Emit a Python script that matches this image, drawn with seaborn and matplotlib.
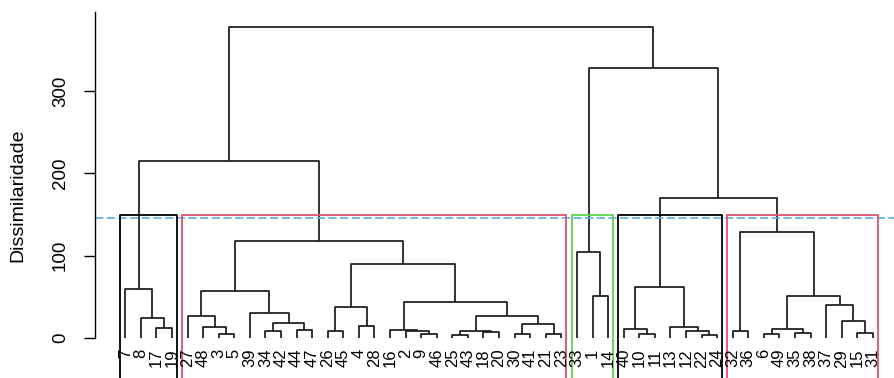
import numpy as np
import matplotlib
matplotlib.use("Agg")
import matplotlib.pyplot as plt
import seaborn as sns

sns.set_style("white")
plt.rcParams['font.family'] = ['Liberation Sans', 'DejaVu Sans']
plt.rcParams['text.color'] = 'black'
plt.rcParams['ytick.color'] = 'black'

# leaf order as drawn (left to right)
leaf_order = [7, 8, 17, 19, 27, 48, 3, 5, 39, 34, 42, 44, 47, 26, 45, 4, 28, 16, 2, 9,
              46, 25, 43, 18, 20, 30, 41, 21, 23, 33, 1, 14, 40, 10, 11, 13, 12, 22, 24,
              32, 36, 6, 49, 35, 38, 37, 29, 15, 31]

# merge table (R hclust style): negative = leaf label, positive = earlier merge row
merge_left = [-17, -8, -7, -3, -48, -27, -34, -44, 7, -39, 6, -26, -4, 12, -9, -2, -16,
              -25, -18, 18, -30, -21, 21, 20, 17, 14, 11, 3, -1, -33, -10, -40, -22, -12,
              -13, 32, -32, -6, -35, 38, -15, -29, -37, 40, 37, 36, 30, 28]
merge_right = [-19, 1, 2, -5, 4, 5, -42, -47, 8, 9, 10, -45, -28, 13, -46, 15, 16,
               -43, -20, 19, -41, -23, 22, 23, 24, 25, 26, 27, -14, 29, -11, 31, -24, 33,
               34, 35, -36, -49, -38, 39, -31, 41, 42, 43, 44, 45, 46, 47]
merge_height = [12, 23.5, 59.5, 4.5, 12.5, 26, 7.7, 9, 17.6, 30, 57, 8.5, 14, 37, 4.5, 8.5,
                9.7, 3, 7, 8.5, 4.5, 4.5, 16.6, 26.5, 44, 90, 118, 215, 50.7, 104, 4.5, 11,
                2.8, 7.7, 12.5, 62, 8.5, 4, 5.7, 10.2, 6.2, 20.4, 40, 51.2, 128.3, 170, 328, 378]

# clusters from cutting the tree in 5 groups
n_groups = 5
cluster_sizes = [4, 25, 3, 7, 10]
cluster_colors = ["black", "#DF536B", "#61D04F", "black", "#DF536B"]
cut_height = 146

fig = plt.figure(figsize=(8.95, 3.78), dpi=100)
ax = fig.add_axes([95.3 / 895, 0, (902.8 - 95.3) / 895, 1])

leaf_pos = {lab: i + 1 for i, lab in enumerate(leaf_order)}
node_x, node_h = {}, {}


def child(ref):
    if ref < 0:
        return leaf_pos[-ref], 0.0
    return node_x[ref], node_h[ref]


line_kw = dict(color="#1a1a1a", lw=1.25, solid_capstyle="butt")
for k, (a, b, h) in enumerate(zip(merge_left, merge_right, merge_height), start=1):
    xa, ha = child(a)
    xb, hb = child(b)
    ax.plot([xa, xa, xb, xb], [ha, h, h, hb], **line_kw)
    node_x[k] = (xa + xb) / 2
    node_h[k] = h

# leaf labels
for lab in leaf_order:
    ax.text(leaf_pos[lab], -13.5, str(lab), rotation=90, ha="center", va="top", fontsize=12)

# cut line
ax.axhline(cut_height, color="#5AAEE6", lw=1.2, dashes=(5, 2))

# cluster rectangles, top halfway between the two merges around the cut
hs = sorted(merge_height, reverse=True)
tops = (hs[n_groups - 2] + hs[n_groups - 1]) / 2
start = 1
for size, col in zip(cluster_sizes, cluster_colors):
    x0 = start - 0.34
    x1 = start + size - 1 + 0.33
    ax.plot([x0, x0, x1, x1], [-80, tops, tops, -80], color=col, lw=1.3)
    start += size

ax.set_xlim(-0.92, 50.92)
ax.set_ylim(-49, 410.8)
ax.set_xticks([])
ax.set_yticks([0, 100, 200, 300])
ax.tick_params(axis="y", direction="out", length=8, width=1, pad=11, labelsize=13.5,
               labelrotation=90, left=True, color="black", labelcolor="black")
for t in ax.get_yticklabels():
    t.set_va("center")
sns.despine(ax=ax, bottom=True)
ax.spines["left"].set_bounds(0, 396.6)
ax.spines["left"].set_color("black")
ax.spines["left"].set_linewidth(1)
ax.patch.set_alpha(0)

fig.text(17.5 / 895, 1 - 195 / 378, "Dissimilaridade", rotation=90, ha="center", va="center",
         fontsize=14)

fig.savefig("out.png", dpi=100)
